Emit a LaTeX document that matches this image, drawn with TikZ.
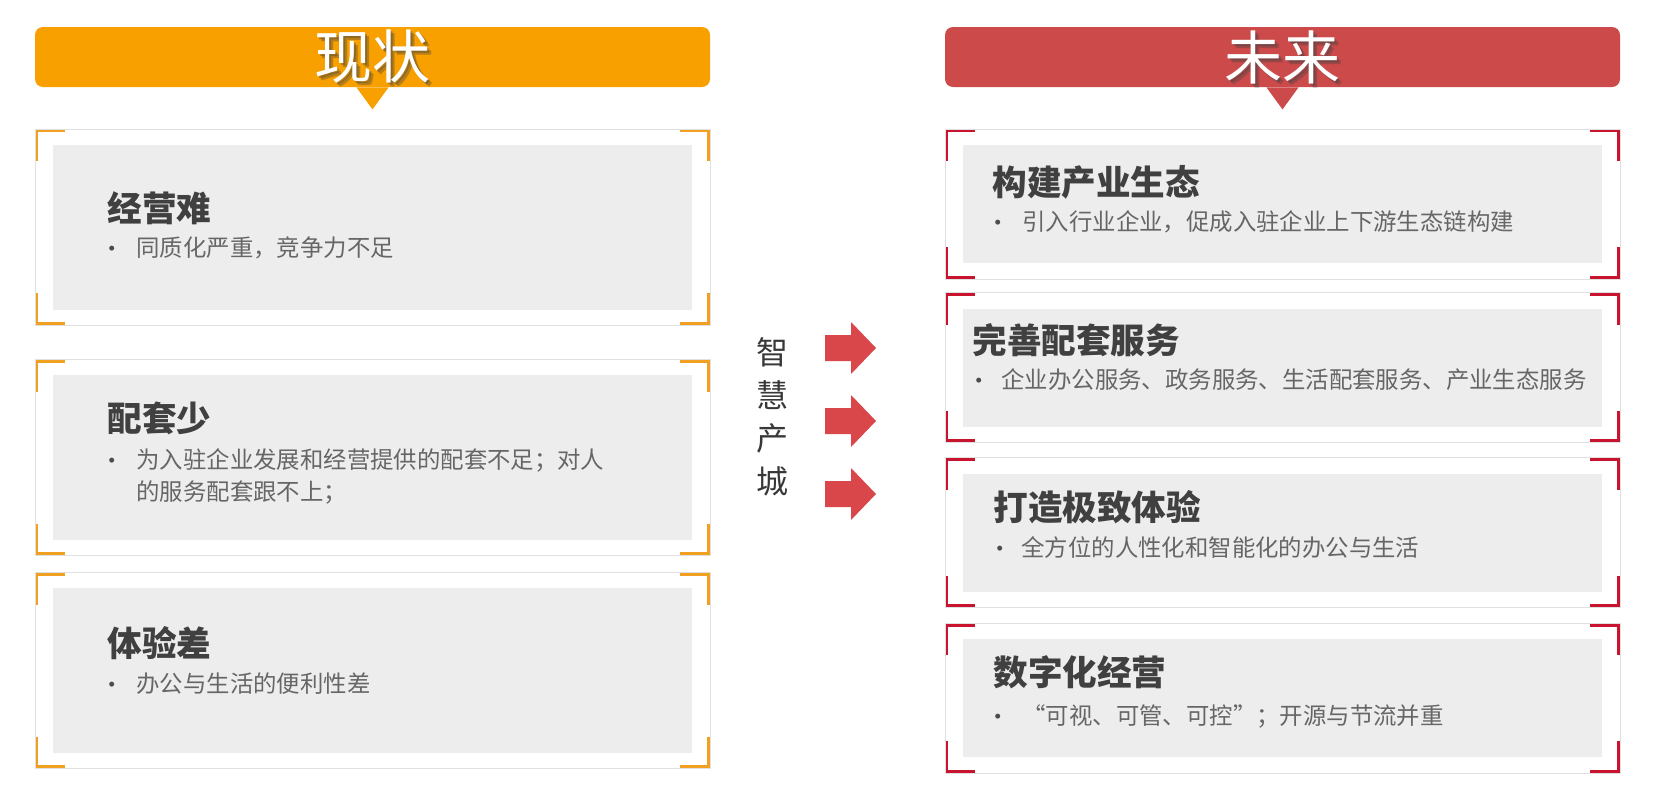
\documentclass[tikz,border=0pt]{standalone}
\usepackage{fontspec}
\setmainfont{Noto Sans CJK SC}
\usetikzlibrary{positioning}
\definecolor{orgc}{HTML}{F7A000}
\definecolor{orgb}{HTML}{F2A022}
\definecolor{redc}{HTML}{CD4A4A}
\definecolor{redb}{HTML}{C8142F}
\definecolor{arrc}{HTML}{D9474A}

\begin{document}
\begin{tikzpicture}[x = .5pt, y = -.5pt,
        hdr/.style = {fill = #1, rounded corners = 4pt, minimum width = 337.5pt, minimum height = 30pt, inner sep = 0pt},
        ttl/.style = {text = white, font = \fontsize{29}{30}\selectfont, inner sep = 0pt},
        shd/.style = {text = black!75, opacity = .35, font = \fontsize{29}{30}\selectfont, inner sep = 0pt},
        frm/.style = {draw = black!12, fill = white, minimum width = 337.5pt, minimum height = #1, inner sep = 0pt},
        brk/.style = {path picture = {
            \draw[#1, line width = 3.4pt]
                ([yshift = -16pt]path picture bounding box.north west) -- (path picture bounding box.north west) -- ([xshift = 15pt]path picture bounding box.north west)
                ([xshift = -15pt]path picture bounding box.north east) -- (path picture bounding box.north east) -- ([yshift = -16pt]path picture bounding box.north east)
                ([yshift = 16pt]path picture bounding box.south west) -- (path picture bounding box.south west) -- ([xshift = 15pt]path picture bounding box.south west)
                ([xshift = -15pt]path picture bounding box.south east) -- (path picture bounding box.south east) -- ([yshift = 16pt]path picture bounding box.south east);
        }},
        gbox/.style = {fill = black!7, minimum width = 319.5pt, minimum height = #1, inner sep = 0pt},
        hd/.style = {anchor = west, inner sep = 0pt, text = black!75, font = \fontsize{17.3}{20}\selectfont\bfseries},
        bl/.style = {anchor = west, inner sep = 0pt, text = black!60, font = \fontsize{11.7}{16}\selectfont, align = left},
        dt/.style = {bl, text = black!70, yshift = -2pt},
        mid/.style = {text = black!78, font = \fontsize{16}{21.5}\selectfont, align = center}]
        \useasboundingbox (0, 0) rectangle (1672, 804);

        \node (now) [hdr = orgc] at (372.5, 57) {};
        \fill[orgc] ([xshift = -8pt]now.south) -- ([xshift = 8pt]now.south) -- ([yshift = -11pt]now.south) -- cycle;
        \node [shd] at ([shift = {(1pt, -1pt)}]now.center) {现状};
        \node [shd] at ([shift = {(2pt, -2pt)}]now.center) {现状};
        \node (nowt) [ttl] at (now) {现状};

        \node (fut) [hdr = redc] at (1282.5, 57) {};
        \fill[redc] ([xshift = -8pt]fut.south) -- ([xshift = 8pt]fut.south) -- ([yshift = -11pt]fut.south) -- cycle;
        \node [shd] at ([shift = {(1pt, -1pt)}]fut.center) {未来};
        \node [shd] at ([shift = {(2pt, -2pt)}]fut.center) {未来};
        \node (futt) [ttl] at (fut) {未来};

        \node (l1) [frm = 98pt, brk = orgb] at (372.5, 227) {};
        \node (l2) [frm = 98pt, brk = orgb, below = 17pt of l1] {};
        \node (l3) [frm = 98pt, brk = orgb, below = 8pt of l2] {};
        \node (lg1) [gbox = 82.5pt] at (l1) {};
        \node (lg2) [gbox = 82.5pt] at (l2) {};
        \node (lg3) [gbox = 82.5pt] at (l3) {};

        \node (r1) [frm = 75pt, brk = redb] at (1282.5, 204) {};
        \node (r2) [frm = 75pt, brk = redb, below = 6.5pt of r1] {};
        \node (r3) [frm = 75pt, brk = redb, below = 7pt of r2] {};
        \node (r4) [frm = 75pt, brk = redb, below = 7.5pt of r3] {};
        \node (rg1) [gbox = 59pt] at (r1) {};
        \node (rg2) [gbox = 59pt] at (r2) {};
        \node (rg3) [gbox = 59pt] at (r3) {};
        \node (rg4) [gbox = 59pt] at (r4) {};

        \node (lh1) [hd] at (107, 208) {经营难};
        \node (ld1) [dt] at (100, 248) {•};
        \node (lt1) [bl] at (136, 248) {同质化严重，竞争力不足};
        \node (lh2) [hd] at (107, 418) {配套少};
        \node (ld2) [dt] at (100, 460) {•};
        \node (lt2) [bl] at (136, 476) {为入驻企业发展和经营提供的配套不足；对人\\的服务配套跟不上；};
        \node (lh3) [hd] at (107, 643) {体验差};
        \node (ld3) [dt] at (100, 684) {•};
        \node (lt3) [bl] at (136, 684) {办公与生活的便利性差};

        \node (rh1) [hd] at (992, 182) {构建产业生态};
        \node (rd1) [dt] at (986, 222) {•};
        \node (rt1) [bl] at (1022, 222) {引入行业企业，促成入驻企业上下游生态链构建};
        \node (rh2) [hd] at (972, 340) {完善配套服务};
        \node (rd2) [dt] at (967, 380) {•};
        \node (rt2) [bl] at (1001, 380) {企业办公服务、政务服务、生活配套服务、产业生态服务};
        \node (rh3) [hd] at (993, 507) {打造极致体验};
        \node (rd3) [dt] at (988, 548) {•};
        \node (rt3) [bl] at (1021, 548) {全方位的人性化和智能化的办公与生活};
        \node (rh4) [hd] at (993, 672) {数字化经营};
        \node (rd4) [dt] at (986, 716) {•};
        \node (rt4) [bl] at (1022, 716) {“可视、可管、可控”；开源与节流并重};

        \node (zh) [mid] at (772, 417) {智\\慧\\产\\城};
        \foreach \y in {348, 421, 494}
            \fill[arrc] (825, \y - 13) -- (851, \y - 13) -- (851, \y - 26) -- (876, \y) -- (851, \y + 26) -- (851, \y + 13) -- (825, \y + 13) -- cycle;
    \end{tikzpicture}
\end{document}
